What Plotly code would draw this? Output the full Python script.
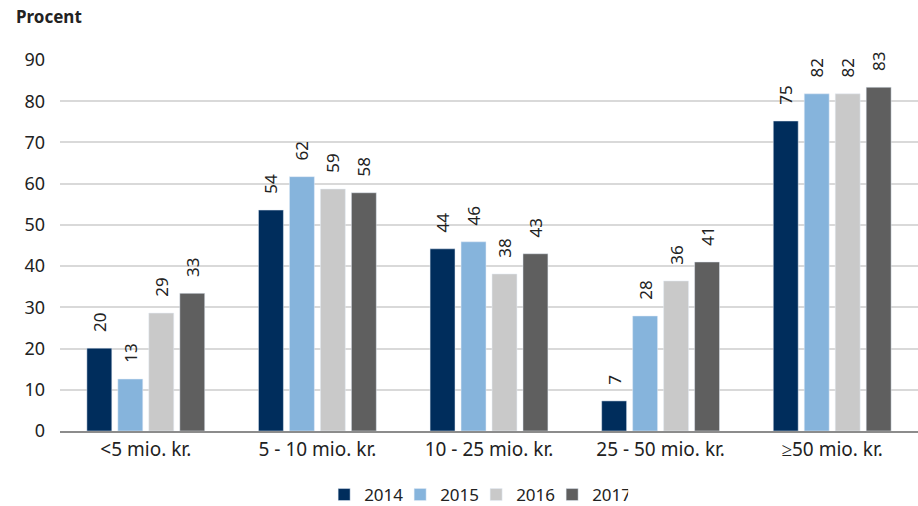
import plotly.graph_objects as go

categories = ["<5 mio. kr.", "5 - 10 mio. kr.", "10 - 25 mio. kr.", "25 - 50 mio. kr.", "≥50 mio. kr."]
years = ["2014", "2015", "2016", "2017"]
v2014 = [20.1, 53.6, 44.2, 7.3, 75.2]
v2015 = [12.6, 61.7, 45.9, 27.9, 81.8]
v2016 = [28.6, 58.7, 38.1, 36.4, 81.8]
v2017 = [33.4, 57.8, 43.0, 41.0, 83.4]
series = [v2014, v2015, v2016, v2017]
colors = ["#002d5c", "#86b4dc", "#c9c9c9", "#5f5f5f"]

FONT = "Noto Sans"
fig = go.Figure()
for name, vals, col in zip(years, series, colors):
    fig.add_trace(go.Bar(
        name=name, x=categories, y=vals, marker_color=col,
        texttemplate="\u00a0\u00a0\u00a0%{y:.0f}", textposition="outside", textangle=-90,
        textfont=dict(family=FONT, size=17, color="#222222"),
        cliponaxis=False, constraintext="none",
    ))

fig.update_layout(
    width=918, height=506,
    margin=dict(l=60, r=0, t=60, b=75, autoexpand=False),
    paper_bgcolor="white", plot_bgcolor="white",
    barmode="group", bargap=0.278, bargroupgap=0.195,
    font=dict(family=FONT, size=17, color="#222222"),
    showlegend=True,
    legend=dict(orientation="h", x=0.485, xanchor="center", y=-0.1725, yanchor="middle",
                font=dict(family=FONT, size=17, color="#222222"),
                itemwidth=30, entrywidth=31, entrywidthmode="pixels", tracegroupgap=0),
    annotations=[dict(text="<b>Procent</b>", xref="paper", yref="paper", x=-0.0536, y=1.116,
                      xanchor="left", yanchor="middle", showarrow=False,
                      font=dict(family=FONT, size=17, color="#222222"))],
)
fig.update_yaxes(range=[0, 90], dtick=10, showgrid=True, gridcolor="#d9d9d9", gridwidth=1.5,
                 zeroline=False, showline=False, ticks="", ticklabelstandoff=14,
                 tickfont=dict(family=FONT, size=18, color="#222222"))
fig.update_xaxes(showline=True, linecolor="#8c8c8c", linewidth=1.5, ticks="",
                 tickfont=dict(family=FONT, size=19, color="#222222"))

fig.write_html("out.html", config={"displayModeBar": False},
               post_script="document.body.style.margin='0';")
